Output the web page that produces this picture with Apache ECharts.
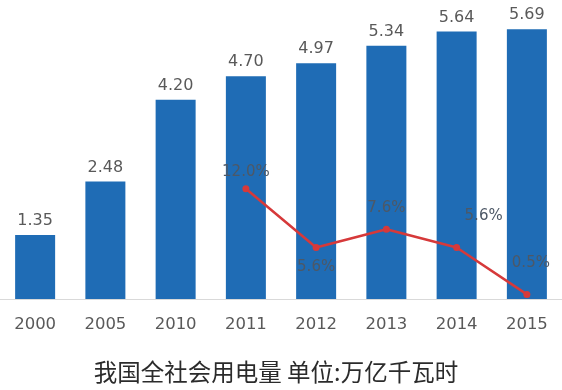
<!DOCTYPE html>
<html>
<head>
<meta charset="utf-8">
<script src="https://cdn.jsdelivr.net/npm/echarts@6/dist/echarts.min.js"></script>
<style>
html,body{margin:0;padding:0;background:#fff;}
#c{width:562px;height:390px;}
</style>
</head>
<body>
<div id="c"></div>
<script>
var years = ['2000','2005','2010','2011','2012','2013','2014','2015'];
var consumption = [1.35, 2.48, 4.20, 4.70, 4.97, 5.34, 5.64, 5.69];
var growth = [null, null, null, 12.0, 5.6, 7.6, 5.6, 0.5];
var growthLabels = ['', '', '', '12.0%', '5.6%', '7.6%', '5.6%', '0.5%'];
var titleText = '我国全社会用电量 单位:万亿千瓦时';

var labelOffsets = [null, null, null, [0, -17], [0, 20], [0, -21], [27, -31], [4, -31]];

var chart = echarts.init(document.getElementById('c'));
var lineData = growth.map(function (v, i) {
  if (v === null) return null;
  return {
    value: v,
    label: {
      show: true,
      position: 'inside',
      offset: labelOffsets[i],
      formatter: growthLabels[i]
    }
  };
});

chart.setOption({
  backgroundColor: '#ffffff',
  animation: false,
  graphic: [{
    type: 'text',
    x: 276,
    y: 372,
    style: {
      text: titleText,
      fontFamily: 'Noto Sans CJK SC',
      fontSize: 23.5,
      fontWeight: 'normal',
      fill: '#2b2b2b',
      textAlign: 'center',
      textVerticalAlign: 'middle'
    }
  }],
  grid: { left: -13, right: -3, top: 5, bottom: 91 },
  xAxis: {
    type: 'category',
    data: years,
    axisLine: { show: true, lineStyle: { color: '#d9d9d9', width: 1 } },
    axisTick: { show: false },
    axisLabel: {
      color: '#595959',
      fontSize: 16.5,
      margin: 17,
      fontFamily: 'DejaVu Sans'
    }
  },
  yAxis: [
    { type: 'value', min: 0, max: 6.2, show: false, splitLine: { show: false } },
    { type: 'value', min: 0, max: 32, show: false, splitLine: { show: false } }
  ],
  series: [
    {
      type: 'bar',
      data: consumption,
      barWidth: 40,
      itemStyle: { color: '#1f6cb5' },
      label: {
        show: true,
        position: 'top',
        distance: 6,
        color: '#595959',
        fontSize: 16,
        fontFamily: 'DejaVu Sans',
        formatter: function (p) { return p.value.toFixed(2); }
      }
    },
    {
      type: 'line',
      yAxisIndex: 1,
      data: lineData,
      connectNulls: false,
      symbol: 'circle',
      symbolSize: 7,
      lineStyle: { color: '#d6393a', width: 2.5 },
      itemStyle: { color: '#d6393a' },
      label: {
        color: '#4d5866',
        fontSize: 15,
        fontFamily: 'DejaVu Sans'
      }
    }
  ]
});
</script>
</body>
</html>
